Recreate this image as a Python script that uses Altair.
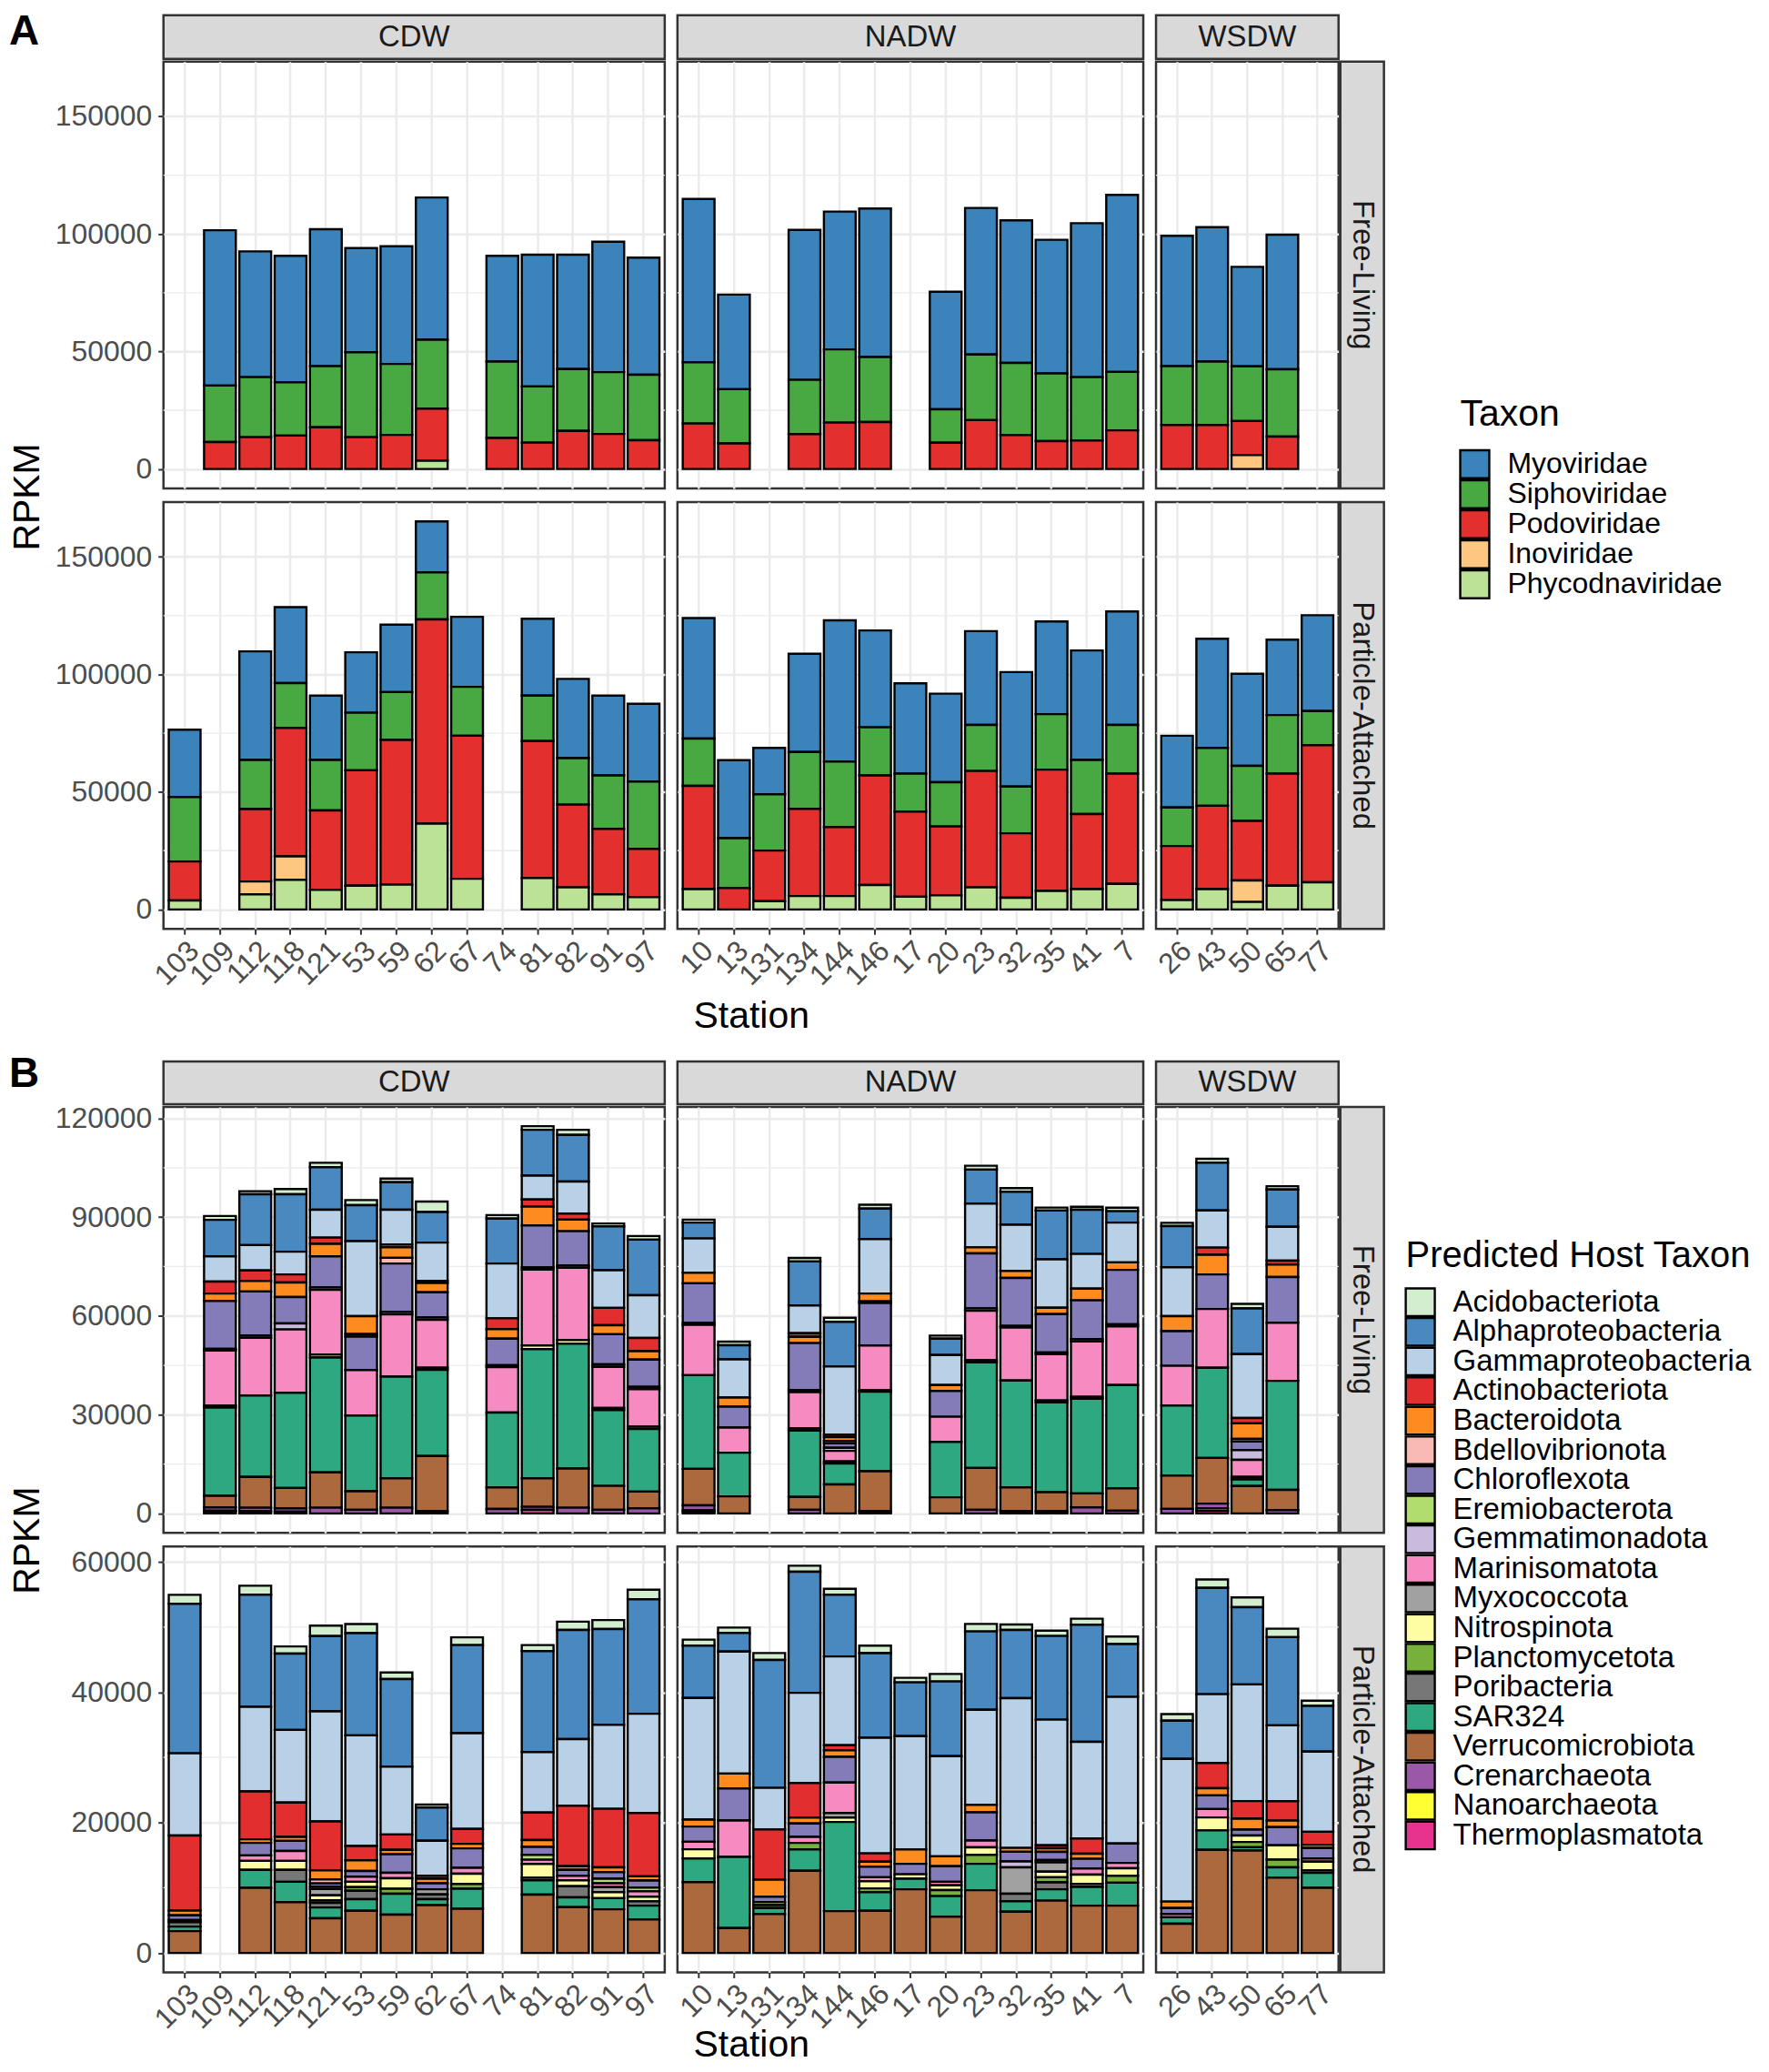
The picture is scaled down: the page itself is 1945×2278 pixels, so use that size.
import altair as alt
import pandas as pd

FONT = "Liberation Sans"
GRID = "#EBEBEB"
DARK = "#333333"
TICKLAB = "#4D4D4D"

# ---------------- categories ----------------
cdw_stations = ["103", "109", "112", "118", "121", "53", "59", "62", "67", "74", "81", "82", "91", "97"]
nadw_stations = ["10", "13", "131", "134", "144", "146", "17", "20", "23", "32", "35", "41", "7"]
wsdw_stations = ["26", "43", "50", "65", "77"]
all_stations = cdw_stations + nadw_stations + wsdw_stations
water_masses = ["CDW", "NADW", "WSDW"]
fractions = ["Free-Living", "Particle-Attached"]

viral_taxa = ["Myoviridae", "Siphoviridae", "Podoviridae", "Inoviridae", "Phycodnaviridae"]
viral_colors = ["#3A84BB", "#48A942", "#E3302F", "#FDC681", "#BCE296"]

host_taxa = ["Acidobacteriota", "Alphaproteobacteria", "Gammaproteobacteria", "Actinobacteriota",
             "Bacteroidota", "Bdellovibrionota", "Chloroflexota", "Eremiobacterota", "Gemmatimonadota",
             "Marinisomatota", "Myxococcota", "Nitrospinota", "Planctomycetota", "Poribacteria",
             "SAR324", "Verrucomicrobiota", "Crenarchaeota", "Nanoarchaeota", "Thermoplasmatota"]
host_colors = ["#D3EDCF", "#4A88C0", "#B9D1E6", "#E32E30", "#FD8B20", "#F9BAB4", "#847CB8", "#B1DD6E",
               "#C8BBDD", "#F68BC2", "#A1A1A1", "#FFFDA4", "#77B03A", "#777777", "#2EA880", "#AD693E",
               "#9C58A8", "#FFFF33", "#E7338E"]

# ---------------- Panel A values (station order = CDW, NADW, WSDW) ----------------
a_fl_myo = [0, 66100, 53500, 53850, 58200, 44300, 50050, 60500, 0, 45000, 56100, 48700, 55500, 49800,
            69500, 40250, 0, 63800, 58600, 63160, 0, 50000, 62370, 60660, 56840, 65520, 75280,
            55400, 57200, 42300, 57300, 0]
a_fl_sipho = [0, 24050, 25550, 22650, 26030, 36150, 30200, 29340, 0, 32500, 23900, 26300, 26300, 27860,
              26050, 23050, 0, 23030, 31160, 27640, 0, 14210, 27900, 30670, 28820, 26980, 24870,
              25100, 27000, 23300, 28600, 0]
a_fl_podo = [0, 11450, 13550, 14200, 17770, 13550, 14500, 22110, 0, 13200, 11200, 16200, 14900, 12240,
             19350, 10900, 0, 14870, 19740, 20000, 0, 11190, 20800, 14470, 11840, 12100, 16450,
             18700, 18700, 14500, 13800, 0]
a_fl_ino = [0, 0, 0, 0, 0, 0, 0, 0, 0, 0, 0, 0, 0, 0,
            0, 0, 0, 0, 0, 0, 0, 0, 0, 0, 0, 0, 0,
            0, 0, 5900, 0, 0]
a_fl_phyco = [0, 0, 0, 0, 0, 0, 0, 3550, 0, 0, 0, 0, 0, 0,
              0, 0, 0, 0, 0, 0, 0, 0, 0, 0, 0, 0, 0,
              0, 0, 0, 0, 0]

a_pa_myo = [28700, 0, 46200, 32300, 27400, 25700, 28700, 21700, 29800, 0, 32700, 33700, 34000, 33100,
            51300, 33200, 19750, 41800, 60100, 41200, 38400, 37700, 39900, 48700, 39400, 46600, 48300,
            30500, 46450, 39200, 32100, 40800]
a_pa_sipho = [27400, 0, 20900, 19050, 21500, 24500, 20400, 20000, 20800, 0, 19350, 19800, 22700, 28600,
              20100, 21200, 23930, 24200, 27900, 20500, 16200, 18800, 19600, 19900, 23600, 23000, 20700,
              16400, 24650, 23400, 24900, 14500]
a_pa_podo = [16600, 0, 30800, 54650, 33740, 49100, 61550, 86900, 60850, 0, 58310, 35220, 27850, 20520,
             43950, 9100, 21550, 37100, 29300, 46600, 36180, 29300, 49520, 27420, 51600, 31950, 46950,
             23040, 35450, 25400, 47700, 58320]
a_pa_ino = [0, 0, 5450, 10000, 0, 0, 0, 0, 0, 0, 0, 0, 0, 0,
            0, 0, 0, 0, 0, 0, 0, 0, 0, 0, 0, 0, 0,
            0, 0, 9100, 0, 0]
a_pa_phyco = [3800, 0, 6450, 12600, 8360, 10100, 10550, 36500, 13050, 0, 13340, 9380, 6450, 5280,
              8650, 0, 3520, 5700, 5700, 10400, 5420, 6000, 9380, 4980, 7900, 8650, 10850,
              3960, 8650, 3200, 10100, 11580]

# ---------------- Panel B values: free-living ----------------
b_fl_acido = [0, 1180, 910, 1550, 1360, 1550, 1090, 3180, 0, 1090, 1090, 1550, 910, 1090,
              910, 1090, 0, 1090, 1270, 1180, 0, 910, 1180, 1090, 910, 910, 1090,
              990, 1190, 1390, 990, 0]
b_fl_alpha = [0, 11090, 15450, 17450, 12910, 10910, 8360, 9270, 0, 13640, 13910, 14180, 13270, 16910,
              4820, 4270, 0, 13360, 13540, 9270, 0, 5000, 10360, 10000, 14820, 13450, 3450,
              12500, 14480, 13890, 11310, 0]
b_fl_gamma = [0, 7640, 7730, 6910, 8450, 22820, 10540, 11640, 0, 16640, 7270, 9730, 11450, 13000,
              10450, 11640, 0, 8450, 20730, 16540, 0, 9090, 13270, 14090, 14730, 10540, 12090,
              14880, 11310, 19440, 10320, 0]
b_fl_actino = [0, 3640, 3180, 2450, 1910, 0, 910, 640, 0, 3270, 2180, 1820, 5270, 4000,
               0, 0, 0, 1090, 730, 0, 0, 0, 0, 0, 0, 0, 0,
               0, 2180, 1590, 1190, 0]
b_fl_bact = [0, 2270, 3180, 4450, 3820, 5450, 3180, 2820, 0, 2910, 5730, 3550, 2730, 2550,
             3180, 2730, 0, 1910, 1180, 2360, 0, 1820, 1820, 2090, 1910, 3550, 2270,
             4560, 5950, 4760, 3770, 0]
b_fl_bdello = [0, 0, 0, 0, 0, 730, 1730, 0, 0, 0, 0, 0, 0, 0,
               0, 0, 0, 0, 730, 550, 0, 0, 0, 0, 0, 0, 0,
               0, 0, 790, 0, 0]
b_fl_chloro = [0, 14540, 13360, 8000, 9450, 10180, 14730, 7640, 0, 8090, 12730, 10360, 9180, 8270,
               12000, 6360, 0, 14270, 1360, 12910, 0, 7820, 16730, 14540, 11640, 11730, 16540,
               10520, 10520, 2580, 13890, 0]
b_fl_eremio = [0, 0, 0, 0, 0, 0, 0, 0, 0, 0, 0, 0, 0, 0,
               0, 0, 0, 0, 0, 0, 0, 0, 0, 0, 0, 0, 0,
               0, 0, 0, 0, 0]
b_fl_gemma = [0, 550, 730, 1820, 730, 0, 730, 730, 0, 550, 640, 730, 730, 730,
              640, 0, 0, 640, 910, 0, 0, 0, 730, 550, 550, 730, 640,
              0, 0, 2980, 0, 0]
b_fl_marini = [0, 16730, 17540, 19270, 19630, 13820, 18910, 14540, 0, 13820, 23090, 22000, 12540, 11360,
               15270, 7640, 0, 10910, 3180, 13540, 0, 7640, 15000, 16090, 14090, 16820, 17820,
               12100, 17860, 5160, 17660, 0]
b_fl_myxo = [0, 0, 0, 0, 0, 0, 0, 0, 0, 0, 0, 0, 0, 0,
             0, 0, 0, 0, 0, 0, 0, 0, 0, 0, 0, 0, 0,
             0, 0, 0, 0, 0]
b_fl_nitro = [0, 0, 0, 0, 910, 0, 0, 0, 0, 0, 1090, 1090, 0, 0,
              0, 0, 0, 0, 0, 0, 0, 0, 0, 0, 0, 0, 0,
              0, 0, 0, 0, 0]
b_fl_plancto = [0, 0, 0, 0, 0, 0, 0, 0, 0, 0, 0, 0, 0, 0,
                0, 0, 0, 0, 0, 0, 0, 0, 0, 0, 0, 0, 0,
                0, 0, 0, 0, 0]
b_fl_pori = [0, 550, 0, 0, 0, 0, 0, 640, 0, 0, 0, 0, 640, 730,
             0, 0, 0, 730, 640, 450, 0, 0, 640, 0, 550, 640, 0,
             0, 0, 790, 0, 0]
b_fl_sar = [0, 26800, 24720, 28900, 34900, 23000, 30900, 26180, 0, 22730, 39270, 37900, 23000, 19000,
            28450, 13270, 0, 20180, 6360, 24180, 0, 16820, 32090, 32450, 27270, 28720, 31360,
            21230, 27380, 1980, 33130, 0]
b_fl_verr = [0, 3550, 9360, 6180, 10730, 5640, 8910, 16820, 0, 6540, 8640, 11910, 7270, 5090,
             11090, 5180, 0, 3910, 8820, 12180, 0, 4910, 12730, 7270, 5820, 4270, 6820,
             10120, 13890, 8330, 6150, 0]
b_fl_cren = [0, 1000, 1090, 1050, 1730, 1090, 1730, 640, 0, 1360, 910, 1730, 1090, 1550,
             1500, 0, 0, 1090, 0, 640, 0, 0, 1090, 640, 640, 1820, 820,
             1390, 1390, 0, 990, 0]
b_fl_nano = [0, 300, 0, 0, 0, 0, 0, 0, 0, 0, 0, 0, 0, 0,
             450, 0, 0, 0, 0, 0, 0, 0, 0, 0, 0, 0, 0,
             0, 790, 0, 0, 0]
b_fl_thermo = [0, 520, 640, 500, 0, 0, 0, 0, 0, 0, 1090, 0, 0, 0,
               500, 0, 0, 0, 0, 0, 0, 0, 0, 0, 0, 0, 0,
               0, 790, 0, 0, 0]

# ---------------- Panel B values: particle-attached ----------------
b_pa_acido = [1380, 0, 1380, 1100, 1610, 1380, 1010, 460, 1190, 0, 920, 1280, 1380, 1470,
              920, 830, 1060, 920, 920, 1150, 690, 1150, 1150, 830, 830, 920, 1150,
              1000, 1290, 1490, 1290, 800]
b_pa_alpha = [22940, 0, 17200, 11700, 11560, 15690, 13440, 5090, 13530, 0, 15500, 16740, 14680, 17570,
              8030, 2840, 19630, 18580, 9450, 12980, 8260, 11470, 12020, 10460, 12840, 17980, 8120,
              5870, 16320, 11840, 13530, 7000]
b_pa_gamma = [12610, 0, 12980, 11150, 16880, 16970, 10410, 5370, 14680, 0, 9270, 10230, 12890, 15230,
              18670, 18720, 6380, 13850, 13620, 17750, 17380, 15370, 14590, 22980, 19270, 14820, 22480,
              21890, 10550, 17910, 11640, 12300]
b_pa_actino = [11510, 0, 7340, 5280, 7520, 2200, 2340, 460, 2290, 0, 4220, 9270, 8990, 9720,
               0, 0, 7710, 5280, 780, 1280, 0, 0, 0, 0, 460, 2340, 0,
               0, 3880, 2690, 2990, 2000]
b_pa_bact = [730, 0, 550, 600, 1380, 1650, 690, 690, 690, 0, 1060, 550, 730, 640,
             1060, 2290, 2610, 920, 1010, 780, 2200, 1510, 1150, 600, 550, 780, 0,
             1000, 1090, 1690, 1000, 500]
b_pa_bdello = [0, 0, 0, 0, 600, 0, 0, 0, 0, 0, 0, 0, 0, 0,
               0, 0, 0, 0, 0, 0, 0, 0, 0, 0, 0, 0, 0,
               0, 0, 0, 0, 0]
b_pa_chloro = [730, 0, 1930, 1560, 500, 870, 2840, 920, 2980, 0, 1240, 920, 1010, 1100,
               2340, 4910, 830, 2060, 3940, 1610, 1610, 2390, 4310, 1470, 1240, 1510, 2980,
               900, 2090, 900, 2790, 1600]
b_pa_eremio = [0, 0, 0, 0, 0, 0, 0, 0, 0, 0, 730, 0, 690, 550,
               0, 0, 0, 0, 0, 0, 0, 0, 0, 0, 0, 0, 0,
               0, 0, 0, 0, 0]
b_pa_gemma = [0, 0, 0, 0, 0, 0, 0, 0, 0, 0, 0, 0, 0, 0,
              0, 0, 0, 0, 0, 0, 0, 0, 0, 920, 370, 0, 0,
              0, 0, 0, 0, 0]
b_pa_marini = [0, 0, 830, 1510, 370, 780, 830, 0, 920, 0, 640, 690, 600, 830,
               1150, 5600, 0, 920, 4680, 600, 0, 550, 1060, 0, 0, 920, 830,
               500, 1290, 0, 0, 500]
b_pa_myxo = [0, 0, 0, 0, 960, 0, 0, 780, 0, 0, 0, 0, 780, 0,
             0, 0, 0, 0, 690, 0, 0, 0, 0, 4040, 1420, 0, 0,
             0, 0, 0, 0, 0]
b_pa_nitro = [0, 0, 1380, 1380, 780, 830, 1610, 0, 1560, 0, 2110, 920, 920, 690,
              1420, 0, 460, 0, 690, 1100, 690, 730, 1150, 0, 870, 1420, 1150,
              0, 1990, 1000, 2190, 1300]
b_pa_plancto = [320, 0, 0, 0, 370, 550, 780, 0, 730, 0, 0, 0, 0, 0,
                0, 0, 460, 1010, 0, 600, 0, 920, 1380, 0, 780, 0, 1060,
                0, 0, 800, 1190, 0]
b_pa_pori = [690, 0, 0, 1830, 730, 1280, 0, 730, 0, 0, 410, 1700, 0, 690,
             0, 0, 0, 0, 0, 0, 0, 0, 0, 1150, 1060, 460, 0,
             0, 0, 0, 0, 400]
b_pa_sar = [690, 0, 2750, 3120, 1650, 1790, 3210, 920, 3070, 0, 2200, 1510, 1700, 2110,
            3620, 10920, 920, 3260, 13670, 2840, 1610, 3170, 4040, 1610, 1740, 2890, 3530,
            1000, 2990, 500, 1590, 2300]
b_pa_verr = [3350, 0, 10000, 7800, 5320, 6470, 5870, 7340, 6790, 0, 8940, 7020, 6700, 5140,
             10870, 3810, 5960, 12610, 6420, 6470, 9770, 5550, 9630, 6330, 8030, 7250, 7250,
             4480, 15820, 15720, 11540, 10000]
b_pa_cren = [0, 0, 0, 0, 0, 0, 0, 0, 0, 0, 0, 0, 0, 0,
             0, 0, 0, 0, 0, 0, 0, 0, 0, 0, 0, 0, 0,
             0, 0, 0, 0, 0]
b_pa_nano = [0, 0, 0, 0, 0, 0, 0, 0, 0, 0, 0, 0, 0, 0,
             0, 0, 0, 0, 0, 0, 0, 0, 0, 0, 0, 0, 0,
             0, 0, 0, 0, 0]
b_pa_thermo = [0, 0, 0, 0, 0, 0, 0, 0, 0, 0, 0, 0, 0, 0,
               0, 0, 0, 0, 0, 0, 0, 0, 0, 0, 0, 0, 0,
               0, 0, 0, 0, 0]

a_fl = [a_fl_myo, a_fl_sipho, a_fl_podo, a_fl_ino, a_fl_phyco]
a_pa = [a_pa_myo, a_pa_sipho, a_pa_podo, a_pa_ino, a_pa_phyco]
b_fl = [b_fl_acido, b_fl_alpha, b_fl_gamma, b_fl_actino, b_fl_bact, b_fl_bdello, b_fl_chloro,
        b_fl_eremio, b_fl_gemma, b_fl_marini, b_fl_myxo, b_fl_nitro, b_fl_plancto, b_fl_pori,
        b_fl_sar, b_fl_verr, b_fl_cren, b_fl_nano, b_fl_thermo]
b_pa = [b_pa_acido, b_pa_alpha, b_pa_gamma, b_pa_actino, b_pa_bact, b_pa_bdello, b_pa_chloro,
        b_pa_eremio, b_pa_gemma, b_pa_marini, b_pa_myxo, b_pa_nitro, b_pa_plancto, b_pa_pori,
        b_pa_sar, b_pa_verr, b_pa_cren, b_pa_nano, b_pa_thermo]

# axis ticks (major labelled, minor grid only)
a_major = [0, 50000, 100000, 150000]
a_minor = [25000, 75000, 125000]
b_fl_major = [0, 30000, 60000, 90000, 120000]
b_fl_minor = [15000, 45000, 75000, 105000]
b_pa_major = [0, 20000, 40000, 60000]
b_pa_minor = [10000, 30000, 50000]

# ---------------- layout (pixels) ----------------
COL_W = [552, 513, 201]
RSTRIP_W = 36          # cell width; the grey box is drawn 12px further left
ROW_SP = 15
COL_SP = 14
LEG_W = 400
col_stations = [cdw_stations, nadw_stations, wsdw_stations]


def make_df(series_list, taxa, stations):
    rows = []
    n = len(taxa)
    for i, (taxon, series) in enumerate(zip(taxa, series_list)):
        for st, v in zip(all_stations, series):
            if st in stations and v > 0:
                rows.append({"station": st, "taxon": taxon, "value": v, "order": n - 1 - i})
    return pd.DataFrame(rows)


def stack_max(series_list):
    return max(sum(s[k] for s in series_list) for k in range(len(all_stations)))


def padded(mx):
    return [-0.05 * mx, 1.05 * mx]


def spacer(w=1, h=1):
    return alt.Chart(pd.DataFrame({"s": [0]})).mark_point(opacity=0).encode(
        x=alt.value(0), y=alt.value(0)).properties(
        width=w, height=h, view=alt.ViewBackground(stroke="transparent"))


def cell(df, stations, taxa, colors, domain, majors, minors, w, h, first_col, bottom_row,
         ytitle_y=None, xtitle=None):
    yscale = alt.Scale(domain=domain, nice=False, zero=False)
    xscale = alt.Scale(domain=stations, paddingInner=0.1, paddingOuter=0.15)
    ykw = dict(values=majors, domain=False, grid=True, gridColor=GRID, gridWidth=2.5)
    if first_col:
        ykw.update(format="d", labelFontSize=32, labelColor=TICKLAB, labelFont=FONT, labelPadding=7,
                   tickSize=6, tickWidth=2, tickColor=DARK)
    else:
        ykw.update(labels=False, ticks=False)
    if ytitle_y is not None:
        ykw.update(title="RPKM", titleFontSize=41, titleFont=FONT, titleFontWeight="normal",
                   titleColor="black", titleAngle=270, titleX=-149, titleY=ytitle_y,
                   titleAlign="center", titleBaseline="middle")
    else:
        ykw["title"] = None
    xkw = dict(domain=False, grid=True, gridColor=GRID, gridWidth=2.5, bandPosition=0.5)
    if bottom_row:
        xkw.update(labelAngle=315, labelAlign="right", labelBaseline="top", labelFontSize=32,
                   labelColor=TICKLAB, labelFont=FONT, labelPadding=2, labelOverlap=False,
                   tickSize=6, tickWidth=2, tickColor=DARK)
    else:
        xkw.update(labels=False, ticks=False)
    if xtitle is not None:
        xkw.update(title="Station", titleFontSize=41, titleFont=FONT, titleFontWeight="normal",
                   titleColor="black", titleX=xtitle[0], titleY=xtitle[1], titleAlign="center",
                   titleBaseline="middle")
    else:
        xkw["title"] = None

    # minor grid lines (same y axis definition so the shared axis is not disabled)
    minor = alt.Chart(pd.DataFrame({"value": minors})).mark_rule(color=GRID, strokeWidth=1.3).encode(
        y=alt.Y("value:Q", scale=yscale, axis=alt.Axis(**ykw)))
    bars = alt.Chart(df).mark_bar(stroke="black", strokeWidth=2.4).encode(
        x=alt.X("station:N", scale=xscale, axis=alt.Axis(**xkw), sort=stations),
        y=alt.Y("value:Q", stack="zero", scale=yscale, axis=alt.Axis(**ykw)),
        fill=alt.Fill("taxon:N", scale=alt.Scale(domain=taxa, range=colors), legend=None),
        order=alt.Order("order:Q", sort="ascending"),
    )
    return alt.layer(minor, bars).properties(width=w, height=h)


def strip(label, w, h, box, angle=0, letter=None, letter_y=0):
    x0, x1, y0, y1 = box
    df = pd.DataFrame({"label": [label]})
    layers = [
        alt.Chart(df).mark_rect(fill="#D9D9D9", stroke=DARK, strokeWidth=2.5).encode(
            x=alt.value(x0), x2=alt.value(x1), y=alt.value(y0), y2=alt.value(y1)),
        alt.Chart(df).mark_text(font=FONT, fontSize=33, color="#1A1A1A", angle=angle).encode(
            x=alt.value((x0 + x1) / 2), y=alt.value((y0 + y1) / 2), text="label:N"),
    ]
    if letter is not None:
        layers.append(alt.Chart(pd.DataFrame({"letter": [letter]})).mark_text(
            font=FONT, fontSize=46, fontWeight="bold", color="black", align="left",
            baseline="alphabetic").encode(x=alt.value(-170), y=alt.value(letter_y), text="letter:N"))
    return alt.layer(*layers).properties(
        width=w, height=h, view=alt.ViewBackground(stroke="transparent"))


def legend(title, taxa, colors, h, x0, title_y, key_top, key_step, title_size, label_size):
    n = len(taxa)
    yscale = alt.Scale(domain=taxa, range=[key_top, key_top + key_step * n], paddingInner=0.07,
                       paddingOuter=0)
    df = pd.DataFrame({"taxon": taxa})
    keys = alt.Chart(df).mark_rect(stroke="black", strokeWidth=2.4).encode(
        x=alt.value(x0), x2=alt.value(x0 + 32),
        y=alt.Y("taxon:N", scale=yscale, axis=None, sort=taxa),
        fill=alt.Fill("taxon:N", scale=alt.Scale(domain=taxa, range=colors), legend=None))
    labels = alt.Chart(df).mark_text(font=FONT, fontSize=label_size, color="black", align="left",
                                     baseline="middle").encode(
        x=alt.value(x0 + 52), y=alt.Y("taxon:N", scale=yscale, axis=None, sort=taxa),
        text="taxon:N")
    ttl = alt.Chart(pd.DataFrame({"t": [title]})).mark_text(
        font=FONT, fontSize=title_size, color="black", align="left", baseline="middle").encode(
        x=alt.value(x0), y=alt.value(title_y), text="t:N")
    return alt.layer(keys, labels, ttl).properties(
        width=LEG_W, height=h, view=alt.ViewBackground(stroke="transparent"))


def panel_rows(letter, taxa, colors, series_rows, domains, majors, minors, strip_cell_h, strip_box_y,
               letter_y, row_h, ytitle_y, station_title_y, leg):
    out = []
    for j, wm in enumerate(water_masses):
        out.append(strip(wm, COL_W[j], strip_cell_h, (0, COL_W[j], strip_box_y[0], strip_box_y[1]),
                         letter=letter if j == 0 else None, letter_y=letter_y))
    out += [spacer(), spacer()]
    for r, frac in enumerate(fractions):
        for j in range(3):
            df = make_df(series_rows[r], taxa, col_stations[j])
            out.append(cell(df, col_stations[j], taxa, colors, domains[r], majors[r], minors[r],
                            COL_W[j], row_h[r], first_col=(j == 0), bottom_row=(r == 1),
                            ytitle_y=(ytitle_y if (r == 0 and j == 0) else None),
                            xtitle=((81, station_title_y) if (r == 1 and j == 1) else None)))
        out.append(strip(frac, RSTRIP_W, row_h[r], (-12, RSTRIP_W, 0, row_h[r]), angle=90))
        out.append(leg if r == 0 else spacer())
    return out


a_max = max(stack_max(a_fl), stack_max(a_pa))
cells_a = panel_rows(
    "A", viral_taxa, viral_colors, [a_fl, a_pa], [padded(a_max), padded(a_max)],
    [a_major, a_major], [a_minor, a_minor], 36, (0, 48), 32, [470, 470], 479, 96,
    legend("Taxon", viral_taxa, viral_colors, 470, 70, 389, 428, 32.6, 41, 32))

cells_b = panel_rows(
    "B", host_taxa, host_colors, [b_fl, b_pa],
    [padded(stack_max(b_fl)), padded(stack_max(b_pa))],
    [b_fl_major, b_pa_major], [b_fl_minor, b_pa_minor], 166, (131, 178), 159, [469, 469], 477, 80,
    legend("Predicted Host Taxon", host_taxa, host_colors, 469, 10, 164, 200, 32.5, 40, 33))

chart = alt.concat(
    *(cells_a + cells_b), columns=5, spacing={"row": ROW_SP, "column": COL_SP},
    bounds="flush", align="each"
).resolve_scale(fill="independent").properties(padding=0).configure(
    font=FONT, background="white").configure_view(stroke=DARK, strokeWidth=2.5)

chart.save("out.html", embed_options={"renderer": "svg", "actions": False})
